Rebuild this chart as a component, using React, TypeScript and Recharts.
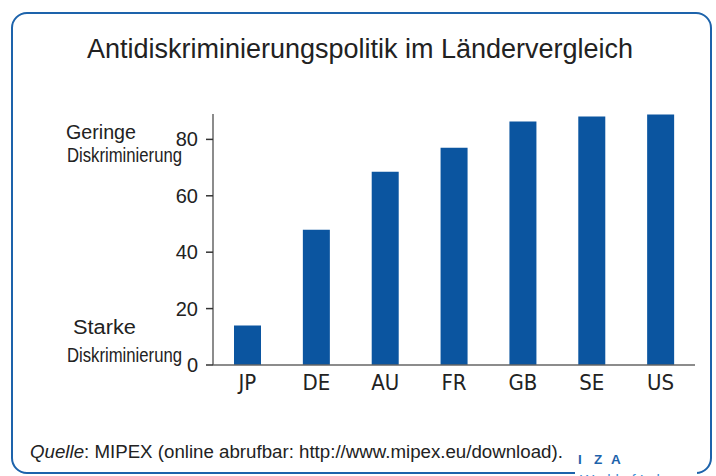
import React from "react";
import { Bar, BarChart, XAxis, YAxis } from "recharts";

const countries = ["JP", "DE", "AU", "FR", "GB", "SE", "US"];
const scores = [14, 48, 68.5, 77, 86.3, 88.1, 88.8];
const yTicks = [0, 20, 40, 60, 80];

const data = countries.map((c, i) => ({ name: c, score: scores[i] }));

const BLUE = "#0b55a0";
const FONT = "'Liberation Sans', Arial, sans-serif";
const NARROW = "'DejaVu Sans Condensed', 'Liberation Sans', sans-serif";

const App: React.FC = () => {
  return (
    <div style={{ position: "absolute", left: 0, top: 0, width: 716, height: 476, background: "#fff", overflow: "hidden" }}>
      <div
        style={{
          position: "absolute",
          left: 11,
          top: 12,
          width: 701,
          height: 462,
          boxSizing: "border-box",
          border: "2px solid #1d63ab",
          borderRadius: 16,
        }}
      />
      <div style={{ position: "absolute", left: 0, top: 0 }}>
        <BarChart width={716} height={476} data={data} margin={{ top: 114, right: 21, left: 0, bottom: 0 }}>
          <XAxis
            dataKey="name"
            height={111}
            axisLine={{ stroke: "#666", strokeWidth: 1.5 }}
            tickLine={false}
            tickSize={0}
            tickMargin={9}
            tick={{ fill: "#222", fontSize: 22, fontFamily: NARROW }}
          />
          <YAxis
            width={213}
            domain={[0, 89]}
            ticks={yTicks}
            axisLine={{ stroke: "#666", strokeWidth: 1.5 }}
            tickLine={{ stroke: "#333", strokeWidth: 1.5 }}
            tickSize={7}
            tickMargin={8}
            tick={{ fill: "#222", fontSize: 20, fontFamily: FONT }}
          />
          <Bar dataKey="score" fill={BLUE} barSize={27} isAnimationActive={false} />
        </BarChart>
      </div>
      <svg width={716} height={476} style={{ position: "absolute", left: 0, top: 0, pointerEvents: "none" }}>
        <g fontFamily={FONT} fill="#222">
          <text x={360} y={58} fontSize={27} textAnchor="middle">
            Antidiskriminierungspolitik im Ländervergleich
          </text>
          <text x={30} y={458} fontSize={18.7}>
            <tspan fontStyle="italic">Quelle</tspan>: MIPEX (online abrufbar: http://www.mipex.eu/download).
          </text>
        </g>
        <g fontFamily={FONT} fill="#222" fontSize={20}>
          <text x={66} y={139} textLength={70} lengthAdjust="spacingAndGlyphs">Geringe</text>
          <text x={67} y={162} textLength={115} lengthAdjust="spacingAndGlyphs">Diskriminierung</text>
          <text x={73} y={334} textLength={63} lengthAdjust="spacingAndGlyphs">Starke</text>
          <text x={67} y={362} textLength={115} lengthAdjust="spacingAndGlyphs">Diskriminierung</text>
        </g>
        <rect x={575} y={466} width={122} height={12} fill="#fff" />
        <g fontFamily={FONT} fontSize={13.5} fontWeight="bold" fill="#1d63ab">
          <text x={578} y={464}>I</text>
          <text x={594} y={464}>Z</text>
          <text x={611} y={464}>A</text>
        </g>
        <text x={580} y={485} fontFamily={FONT} fontSize={15} fill="#3a8fd6">
          World of Labor
        </text>
      </svg>
    </div>
  );
};

export default App;
